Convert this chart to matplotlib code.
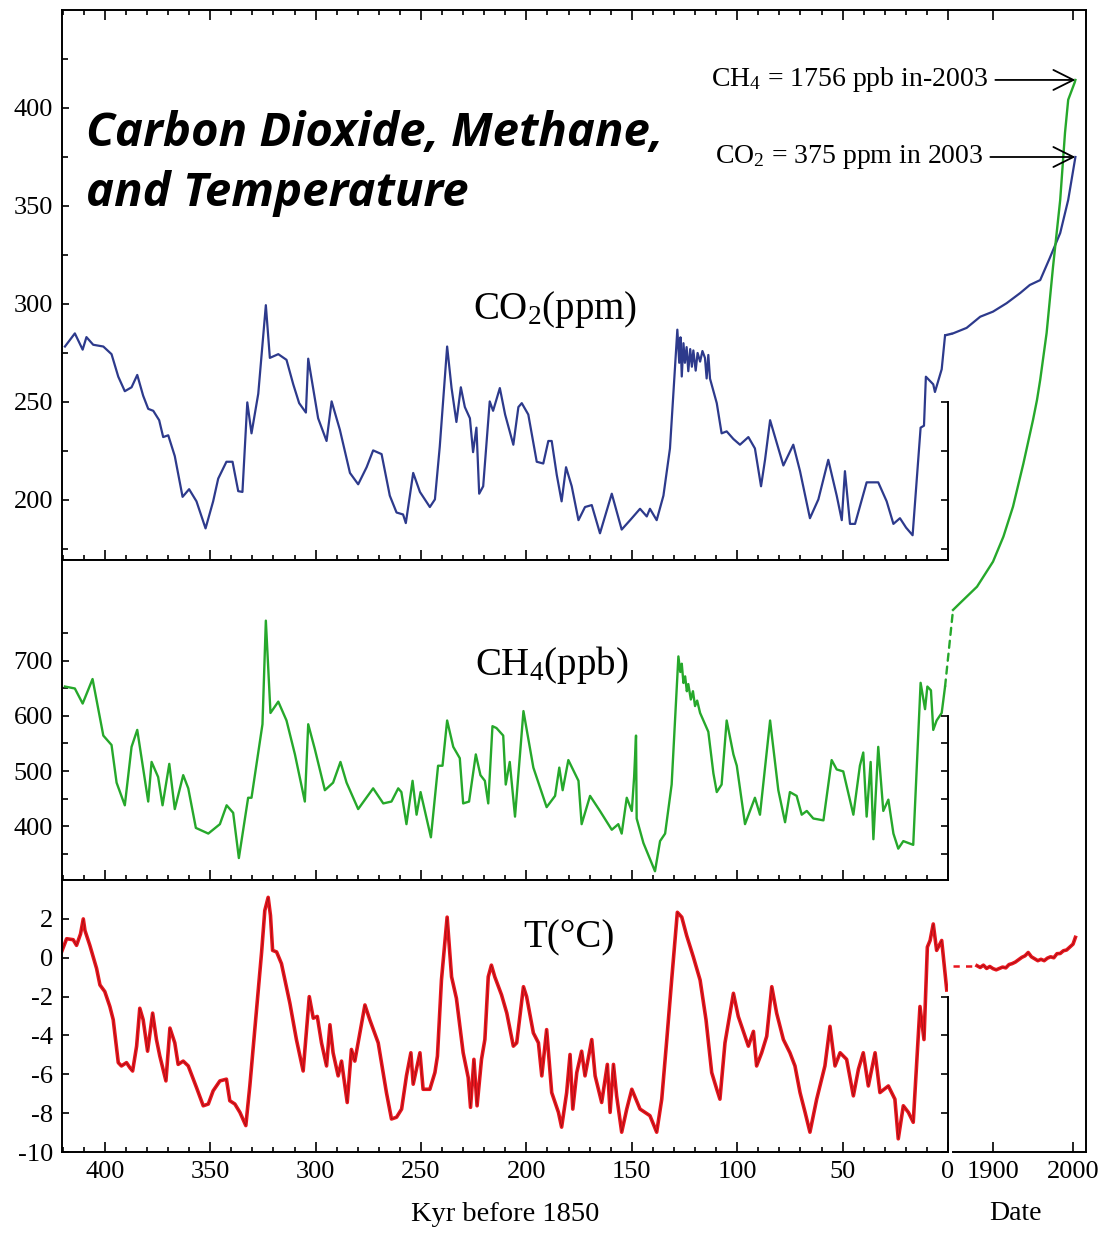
import matplotlib.pyplot as plt
import matplotlib.transforms as mtransforms
from matplotlib.patches import ConnectionPatch
from matplotlib.ticker import MultipleLocator, FixedLocator

plt.rcParams['font.family'] = ['Liberation Serif', 'DejaVu Serif']
plt.rcParams['mathtext.fontset'] = 'custom'
plt.rcParams['mathtext.rm'] = 'Liberation Serif'
plt.rcParams['mathtext.it'] = 'Liberation Serif:italic'
plt.rcParams['axes.unicode_minus'] = False

# ice core records, kyr before 1850
co2_kyr = [418.9, 414.2, 410.5, 408.7, 405.5, 400.7, 396.8, 393.6, 390.5, 387.3, 384.6, 381.8,
           379.4, 377.0, 374.2, 372.3, 369.9, 366.8, 363.1, 360.0, 356.5, 352.2, 348.6, 346.2,
           342.3, 339.4, 336.7, 334.7, 332.4, 330.4, 327.2, 323.6, 321.7, 317.7, 313.8, 310.6,
           307.8, 304.6, 303.5, 298.8, 294.8, 292.4, 288.5, 283.7, 279.8, 275.8, 272.7, 268.7,
           264.8, 261.6, 258.5, 257.2, 253.7, 250.5, 245.8, 243.4, 241.1, 237.6, 235.5, 233.2,
           231.1, 229.2, 226.8, 225.3, 223.7, 222.4, 220.5, 217.4, 215.8, 212.6, 210.1, 206.2,
           203.8, 202.2, 199.1, 195.1, 192.0, 189.6, 188.0, 185.6, 183.3, 181.2, 178.5, 175.3,
           172.2, 169.0, 165.1, 159.5, 154.8, 150.8, 146.1, 142.9, 141.4, 138.2, 135.0, 131.9,
           128.4, 127.5, 126.9, 126.3, 125.5, 124.8, 124.0, 123.2, 122.3, 121.5, 120.8, 119.7,
           118.8, 117.6, 116.5, 115.3, 114.5, 113.7, 112.9, 109.7, 107.4, 105.0, 101.8, 98.7,
           94.7, 91.6, 88.7, 86.8, 84.4, 78.1, 73.4, 70.2, 65.5, 61.5, 56.8, 52.8, 50.4, 48.9,
           46.5, 44.1, 38.6, 33.1, 29.1, 25.9, 22.8, 19.9, 16.8, 13.0, 11.4, 10.5, 7.0, 6.2,
           3.0, 1.4]
co2_ppm = [278.3, 285.0, 276.7, 283.1, 279.2, 278.3, 274.4, 262.9, 255.5, 257.5, 263.8, 253.2,
           246.5, 245.5, 240.7, 232.1, 233.0, 222.4, 201.6, 205.5, 199.3, 185.5, 199.3, 210.9,
           219.5, 219.5, 204.5, 204.1, 249.8, 234.0, 254.2, 299.4, 272.5, 274.4, 271.5, 259.0,
           249.4, 244.6, 272.1, 241.7, 230.1, 250.3, 235.9, 213.8, 208.0, 216.7, 225.3, 223.4,
           202.2, 193.6, 192.6, 188.2, 213.8, 204.1, 196.4, 200.3, 227.2, 278.3, 257.1, 239.8,
           257.5, 247.4, 241.7, 224.4, 236.9, 203.2, 207.0, 250.3, 245.5, 257.1, 243.6, 228.2,
           247.4, 249.4, 243.6, 219.5, 218.6, 230.1, 230.1, 212.8, 199.3, 216.7, 207.0, 189.7,
           196.4, 197.4, 183.0, 203.2, 184.9, 189.7, 195.5, 191.6, 195.5, 189.7, 202.2, 226.3,
           286.9, 270.0, 283.0, 263.0, 280.0, 270.0, 278.0, 265.7, 277.0, 268.0, 276.3, 266.0,
           275.0, 270.6, 276.0, 272.5, 262.0, 274.0, 261.9, 249.4, 234.0, 235.0, 231.1, 228.2,
           232.1, 226.3, 207.0, 220.5, 240.7, 217.6, 228.2, 214.7, 190.7, 200.3, 220.5, 202.2,
           189.7, 214.7, 187.8, 187.8, 209.0, 209.0, 199.3, 187.8, 190.7, 185.9, 182.0, 236.9,
           237.9, 262.9, 259.0, 255.1, 266.7, 284.0]

ch4_kyr = [418.9, 414.2, 410.5, 405.8, 400.7, 396.8, 394.4, 390.5, 387.3, 384.6, 379.4, 377.8,
           374.7, 372.6, 369.4, 366.8, 362.8, 360.4, 356.8, 350.9, 345.4, 342.2, 339.1, 336.4,
           332.0, 330.4, 325.2, 323.6, 321.4, 317.7, 313.8, 309.8, 305.1, 303.5, 300.4, 295.6,
           291.7, 288.2, 285.3, 279.8, 272.7, 267.9, 264.0, 260.8, 259.3, 256.9, 254.0, 252.1,
           250.2, 245.3, 241.9, 239.8, 237.6, 234.7, 231.6, 230.0, 227.2, 224.0, 221.8, 219.7,
           218.1, 216.1, 214.2, 211.0, 209.8, 207.9, 205.4, 201.4, 196.7, 190.4, 186.4, 184.4,
           182.8, 180.1, 175.3, 173.8, 169.8, 165.1, 159.5, 156.4, 154.8, 152.4, 150.0, 148.9,
           148.0, 147.7, 144.5, 139.0, 136.6, 134.2, 131.1, 127.9, 127.0, 126.3, 125.5, 124.7,
           123.9, 123.2, 122.0, 121.0, 120.0, 119.0, 117.6, 113.7, 111.3, 109.7, 107.4, 105.0,
           101.8, 100.2, 96.3, 91.6, 89.2, 84.4, 80.5, 77.3, 75.0, 71.8, 69.4, 67.0, 63.9, 59.1,
           55.2, 52.8, 49.7, 44.9, 41.8, 40.2, 38.6, 36.7, 35.4, 33.1, 30.7, 28.3, 25.9, 23.6,
           21.2, 16.5, 13.0, 10.9, 9.8, 8.1, 7.0, 5.4, 3.0, 1.4]
ch4_ppb = [653.5, 650.0, 622.6, 667.2, 564.4, 547.3, 478.8, 437.7, 543.9, 574.7, 444.5, 516.5,
           489.1, 437.7, 513.0, 430.8, 492.5, 468.5, 396.6, 386.3, 403.4, 437.7, 424.0, 341.8,
           451.4, 451.4, 585.0, 773.3, 605.5, 626.1, 591.8, 530.2, 444.5, 585.0, 540.4, 465.1,
           478.8, 516.5, 478.8, 430.8, 468.5, 441.1, 444.5, 468.5, 461.7, 403.4, 482.2, 420.6,
           461.7, 379.5, 509.6, 509.6, 591.8, 543.9, 523.3, 441.1, 444.5, 530.2, 492.5, 482.2,
           441.1, 581.5, 578.1, 564.4, 475.4, 516.5, 417.1, 608.9, 506.2, 434.3, 454.8, 506.2,
           465.1, 519.9, 482.2, 403.4, 454.8, 427.4, 393.2, 403.4, 386.3, 451.4, 427.4, 489.1,
           564.4, 413.7, 369.2, 317.8, 372.6, 386.3, 475.4, 708.3, 680.0, 695.0, 660.0, 672.0,
           645.0, 658.0, 630.0, 645.0, 618.0, 628.0, 605.5, 571.3, 495.9, 461.7, 475.4, 591.8,
           530.2, 509.6, 403.4, 451.4, 420.6, 591.8, 465.1, 406.9, 461.7, 454.8, 420.6, 427.4,
           413.7, 410.3, 519.9, 502.8, 499.3, 420.6, 509.6, 533.6, 417.1, 516.5, 376.0, 543.9,
           427.4, 448.0, 386.3, 358.9, 372.6, 365.8, 660.3, 612.4, 653.5, 646.6, 574.7, 591.8,
           605.5, 653.5]

temp_kyr = [420.5, 418.1, 415.0, 413.4, 411.5, 410.2, 409.4, 407.1, 403.9, 402.3, 400.0, 397.6,
            396.0, 393.6, 392.1, 389.7, 388.1, 386.8, 384.9, 383.4, 381.8, 379.7, 377.3, 375.5,
            373.9, 371.0, 369.1, 366.8, 365.2, 362.8, 360.4, 356.5, 353.3, 350.9, 348.6, 345.4,
            342.3, 340.7, 338.3, 335.9, 333.1, 331.2, 328.0, 325.6, 324.1, 322.5, 321.4, 320.4,
            318.5, 316.2, 312.2, 309.1, 305.9, 303.0, 301.1, 299.2, 297.2, 294.8, 293.2, 291.7,
            289.3, 287.7, 285.0, 283.0, 281.4, 276.6, 274.3, 270.3, 266.4, 264.0, 261.6, 259.2,
            256.9, 254.8, 253.7, 250.5, 249.0, 245.8, 243.4, 242.2, 240.3, 237.6, 235.5, 233.2,
            230.0, 227.6, 226.5, 224.9, 223.4, 221.3, 219.7, 218.1, 216.6, 215.0, 211.8, 209.3,
            206.2, 204.6, 201.4, 199.9, 196.7, 194.3, 192.7, 190.4, 188.0, 184.8, 183.3, 180.9,
            179.3, 178.0, 176.1, 173.8, 172.2, 169.0, 167.4, 164.3, 161.6, 160.3, 158.7, 157.2,
            154.8, 152.4, 150.0, 146.1, 141.4, 138.2, 135.8, 133.4, 131.1, 128.4, 126.3, 124.0,
            120.8, 117.6, 114.8, 112.1, 109.7, 108.2, 105.8, 103.4, 101.8, 99.5, 97.9, 94.7,
            92.3, 90.8, 88.4, 86.0, 83.6, 81.3, 78.1, 75.0, 72.6, 70.2, 67.8, 65.5, 62.3, 58.4,
            56.0, 53.6, 51.2, 48.1, 44.9, 42.5, 40.2, 37.8, 34.6, 32.3, 28.3, 25.2, 23.6, 21.2,
            18.8, 16.5, 13.3, 11.4, 9.8, 8.5, 7.0, 5.4, 3.0, 0.6]
temp_c = [0.30, 0.98, 0.93, 0.64, 1.23, 2.00, 1.40, 0.64, -0.55, -1.40, -1.74, -2.51,
          -3.19, -5.40, -5.57, -5.40, -5.66, -5.83, -4.55, -2.60, -3.19, -4.81, -2.85, -4.21,
          -5.06, -6.34, -3.62, -4.38, -5.49, -5.32, -5.57, -6.68, -7.62, -7.53, -6.85, -6.34,
          -6.25, -7.36, -7.53, -7.96, -8.64, -6.60, -2.68, 0.30, 2.43, 3.11, 2.17, 0.38,
          0.30, -0.30, -2.34, -4.21, -5.83, -2.00, -3.11, -3.02, -4.38, -5.57, -3.45, -4.89,
          -6.08, -5.32, -7.45, -4.72, -5.32, -2.43, -3.19, -4.38, -6.94, -8.30, -8.21, -7.79,
          -6.08, -4.89, -6.51, -4.89, -6.77, -6.77, -5.91, -5.06, -1.15, 2.09, -0.98, -2.09,
          -4.89, -6.17, -7.70, -5.23, -7.62, -5.23, -4.21, -0.98, -0.38, -0.98, -1.91, -2.85,
          -4.55, -4.38, -1.49, -2.00, -3.87, -4.38, -6.08, -3.70, -6.94, -7.96, -8.72, -6.94,
          -4.98, -7.79, -5.91, -4.81, -6.08, -4.21, -6.08, -7.45, -5.49, -7.96, -5.49, -7.11,
          -8.98, -7.79, -6.77, -7.79, -8.13, -8.98, -7.28, -4.21, -1.15, 2.34, 2.09, 1.15,
          0.04, -1.15, -3.19, -5.91, -6.77, -7.28, -4.38, -2.85, -1.83, -3.02, -3.53, -4.55,
          -3.79, -5.57, -4.89, -4.04, -1.49, -2.85, -4.21, -4.89, -5.57, -6.94, -7.96, -8.98, -7.28, -5.57,
          -3.53, -5.57, -4.89, -5.23, -7.11, -5.74, -4.89, -6.60, -4.89, -6.94, -6.60, -7.28, -9.32, -7.62,
          -7.96, -8.47, -2.51, -4.21, 0.55, 0.89, 1.74, 0.38, 0.89, -1.66]

# instrumental era, calendar years
co2_year = [1850, 1867, 1884, 1900, 1917, 1934, 1946, 1959, 1971, 1984, 1994, 2003]
co2_recent = [285.0, 287.8, 293.5, 296.1, 300.4, 305.6, 309.7, 312.2, 323.5, 336.2, 353.1, 375.0]

ch4_year = [1850, 1859, 1880, 1900, 1913, 1925, 1938, 1950, 1955, 1959, 1967, 1975, 1984,
            1990, 1994, 2002, 2003]
ch4_recent = [792.7, 805.5, 835.0, 880.5, 926.0, 980.5, 1059.0, 1138.0, 1174.5, 1211.0,
              1296.0, 1416.0, 1538.0, 1660.0, 1720.0, 1751.0, 1756.0]

temp_year = [1880, 1884, 1888, 1892, 1896, 1900, 1904, 1908, 1912, 1916, 1920, 1924, 1928,
             1932, 1936, 1940, 1944, 1948, 1952, 1956, 1960, 1964, 1968, 1972, 1976, 1980,
             1984, 1988, 1992, 1996, 2000, 2003]
temp_recent = [-0.41, -0.50, -0.38, -0.55, -0.45, -0.56, -0.62, -0.55, -0.48, -0.52, -0.35,
               -0.30, -0.22, -0.10, 0.02, 0.10, 0.27, 0.05, -0.05, -0.15, -0.08, -0.15, -0.02,
               0.05, 0.00, 0.21, 0.22, 0.36, 0.40, 0.55, 0.70, 1.05]

CO2_COLOR = '#2d3a8c'
CH4_COLOR = '#26a82b'
T_COLOR = '#e8161e'

fig = plt.figure(figsize=(11.11, 12.35), dpi=100)

ax_co2 = fig.add_axes([0.0558, 0.5466, 0.7975, 0.4453])
ax_ch4 = fig.add_axes([0.0558, 0.2874, 0.7975, 0.2592])
ax_t = fig.add_axes([0.0558, 0.0672, 0.7975, 0.2202])
ax_date = fig.add_axes([0.8533, 0.0672, 0.1242, 0.9247])

ax_co2.plot(co2_kyr, co2_ppm, color=CO2_COLOR, lw=1.6)
ax_ch4.plot(ch4_kyr, ch4_ppb, color=CH4_COLOR, lw=1.7)
ax_t.plot(temp_kyr, temp_c, color=T_COLOR, lw=2.6)
ax_t.plot(temp_kyr, temp_c, color='#3a0505', lw=0.4, alpha=0.55)

ax_co2.set_ylim(169.4, 450)
ax_ch4.set_ylim(301.8, 883.6)
ax_t.set_ylim(-10, 4)

for ax in (ax_co2, ax_ch4, ax_t):
    ax.set_xlim(420.3, 0)
    ax.xaxis.set_major_locator(MultipleLocator(50))
    ax.xaxis.set_minor_locator(MultipleLocator(10))
    ax.tick_params(axis='both', which='both', direction='in', width=1.2, labelsize=19, pad=6.5)
    ax.tick_params(axis='x', which='major', length=7, top=False)
    ax.tick_params(axis='x', which='minor', length=3.5, top=False)
    ax.tick_params(axis='y', which='major', length=5)
    ax.tick_params(axis='y', which='minor', length=4)
    ax.spines['right'].set_visible(False)
    for s in ax.spines.values():
        s.set_linewidth(1.4)

ax_co2.tick_params(axis='x', which='both', top=True, labelbottom=False)
ax_ch4.tick_params(axis='x', labelbottom=False)

ax_co2.yaxis.set_major_locator(FixedLocator([200, 250, 300, 350, 400]))
ax_co2.yaxis.set_minor_locator(FixedLocator([175, 225, 275, 325, 375, 425]))
ax_ch4.yaxis.set_major_locator(FixedLocator([400, 500, 600, 700]))
ax_ch4.yaxis.set_minor_locator(FixedLocator([350, 450, 550, 650, 750]))
ax_t.yaxis.set_major_locator(FixedLocator([-10, -8, -6, -4, -2, 0, 2]))
ax_t.set_xticks([400, 350, 300, 250, 200, 150, 100, 50, 0])


def partial_right_spine(ax, ticks, top):
    r = ax.twinx()
    r.set_ylim(ax.get_ylim())
    r.yaxis.set_major_locator(FixedLocator(ticks))
    r.tick_params(axis='y', direction='in', length=5, width=1.2, labelright=False)
    for s in ('top', 'bottom', 'left'):
        r.spines[s].set_visible(False)
    r.spines['right'].set_bounds(ax.get_ylim()[0], top)
    r.spines['right'].set_linewidth(1.4)
    return r


partial_right_spine(ax_co2, [175, 200, 225, 250], 250)
partial_right_spine(ax_ch4, [350, 400, 450, 500, 550, 600], 600)
partial_right_spine(ax_t, [-10, -8, -6, -4, -2], -2)

# modern panel: x in years, y borrowed from each record's own scale
ax_date.patch.set_alpha(0)
ax_date.set_xlim(1843.75, 2016.25)
ax_date.set_ylim(0, 1)
ax_date.spines['left'].set_visible(False)
ax_date.spines['bottom'].set_bounds(1850, 2016.25)
for s in ax_date.spines.values():
    s.set_linewidth(1.4)
ax_date.set_yticks([])
ax_date.set_xticks([1900, 2000])
ax_date.tick_params(axis='x', direction='in', length=7, width=1.2, top=True,
                    labelsize=19, pad=6.5)

co2_tr = mtransforms.blended_transform_factory(ax_date.transData, ax_co2.transData)
ch4_tr = mtransforms.blended_transform_factory(ax_date.transData, ax_ch4.transData)
t_tr = mtransforms.blended_transform_factory(ax_date.transData, ax_t.transData)

ax_date.plot(co2_year, co2_recent, color=CO2_COLOR, lw=1.6, transform=co2_tr)
ax_date.plot(ch4_year, ch4_recent, color=CH4_COLOR, lw=1.7, transform=ch4_tr)
ax_date.plot(temp_year, temp_recent, color=T_COLOR, lw=2.6, transform=t_tr)
ax_date.plot(temp_year, temp_recent, color='#3a0505', lw=0.4, alpha=0.55, transform=t_tr)
ax_date.plot([1850, temp_year[0]], [temp_recent[0], temp_recent[0]], color=T_COLOR,
             lw=1.8, ls=(0, (2.5, 2.5)), transform=t_tr)

# dashed joins between the ice core and the modern records
for ax_src, tr, kyr, vals, yrs, recent, col in (
        (ax_co2, co2_tr, co2_kyr, co2_ppm, co2_year, co2_recent, CO2_COLOR),
        (ax_ch4, ch4_tr, ch4_kyr, ch4_ppb, ch4_year, ch4_recent, CH4_COLOR)):
    con = ConnectionPatch(xyA=(kyr[-1], vals[-1]), coordsA=ax_src.transData,
                          xyB=(yrs[0], recent[0]), coordsB=tr,
                          color=col, lw=1.7, ls=(0, (3, 2.5)))
    fig.add_artist(con)

arrow = dict(arrowstyle='->,head_length=0.6,head_width=0.3', color='black', lw=1.3,
             shrinkA=3, shrinkB=0, mutation_scale=24)
ax_date.annotate('CH$_4$ = 1756 ppb in-2003', xy=(ch4_year[-1], ch4_recent[-1]),
                 xycoords=ch4_tr, xytext=(-87, 0), textcoords='offset pixels',
                 ha='right', va='center', fontsize=20, arrowprops=arrow,
                 annotation_clip=False)
ax_date.annotate('CO$_2$ = 375 ppm in 2003', xy=(co2_year[-1], co2_recent[-1]),
                 xycoords=co2_tr, xytext=(-92, 0), textcoords='offset pixels',
                 ha='right', va='center', fontsize=20, arrowprops=arrow,
                 annotation_clip=False)

ax_co2.text(186.5, 297, 'CO$_2$(ppm)', fontsize=28, ha='center', va='center')
ax_ch4.text(188, 693, 'CH$_4$(ppb)', fontsize=28, ha='center', va='center')
ax_t.text(180, 1.0, 'T(°C)', fontsize=28, ha='center', va='center')

fig.text(0.4545, 0.0162, 'Kyr before 1850', fontsize=20.5, ha='center', va='center')
fig.text(0.9136, 0.0178, 'Date', fontsize=20, ha='center', va='center')

title_font = dict(family='Open Sans', weight='bold', style='italic', fontsize=34,
                  ha='left', va='baseline')
fig.text(86 / 1111, 1 - 146 / 1235, 'Carbon Dioxide, Methane,', **title_font)
fig.text(86 / 1111, 1 - 206 / 1235, 'and Temperature', **title_font)

fig.savefig('out.png', dpi=100)
